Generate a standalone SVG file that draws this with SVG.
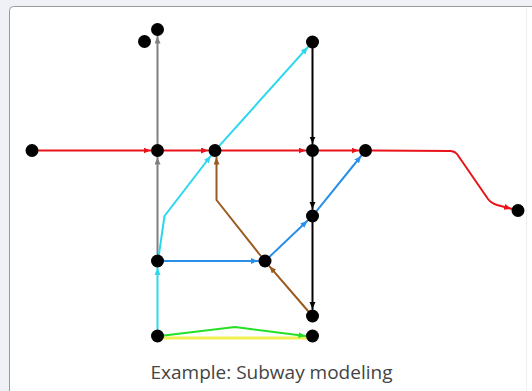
<svg xmlns="http://www.w3.org/2000/svg" width="532" height="391" viewBox="0 0 532 391">
<defs>
<style>
.e{fill:none;stroke-width:2;stroke-linejoin:round;stroke-linecap:round}
.n{fill:#000}
.red{stroke:#e8141a}.gray{stroke:#808080}.cyan{stroke:#2ad8ee}.brown{stroke:#9a5b1e}.blue{stroke:#2a8fea}.black{stroke:#000}.green{stroke:#26e026}.yellow{stroke:#f0f050;stroke-width:3}
</style>
<marker id="mr" markerUnits="userSpaceOnUse" markerWidth="8" markerHeight="8" refX="7" refY="3" orient="auto"><path d="M0,0 L7,3 L0,6 z" fill="#e8141a"/></marker>
<marker id="mg" markerUnits="userSpaceOnUse" markerWidth="8" markerHeight="8" refX="7" refY="3" orient="auto"><path d="M0,0 L7,3 L0,6 z" fill="#808080"/></marker>
<marker id="mc" markerUnits="userSpaceOnUse" markerWidth="8" markerHeight="8" refX="7" refY="3" orient="auto"><path d="M0,0 L7,3 L0,6 z" fill="#2ad8ee"/></marker>
<marker id="mb" markerUnits="userSpaceOnUse" markerWidth="8" markerHeight="8" refX="7" refY="3" orient="auto"><path d="M0,0 L7,3 L0,6 z" fill="#9a5b1e"/></marker>
<marker id="mu" markerUnits="userSpaceOnUse" markerWidth="8" markerHeight="8" refX="7" refY="3" orient="auto"><path d="M0,0 L7,3 L0,6 z" fill="#2a8fea"/></marker>
<marker id="mk" markerUnits="userSpaceOnUse" markerWidth="8" markerHeight="8" refX="7" refY="3" orient="auto"><path d="M0,0 L7,3 L0,6 z" fill="#000"/></marker>
<marker id="mn" markerUnits="userSpaceOnUse" markerWidth="8" markerHeight="8" refX="7" refY="3" orient="auto"><path d="M0,0 L7,3 L0,6 z" fill="#26e026"/></marker>
</defs>
<rect x="0" y="0" width="532" height="391" fill="#eff1f6"/>
<rect x="9.5" y="6.5" width="540" height="400" rx="4" fill="#fff" stroke="#9a9a9a"/>
<line x1="526.5" y1="8" x2="526.5" y2="391" stroke="#f0f0f0"/>
<g id="connectors">
<path class="e red" d="M38.5,150.5 H150.5" marker-end="url(#mr)"/>
<path class="e red" d="M164,150.5 H208" marker-end="url(#mr)"/>
<path class="e red" d="M221.5,150.5 H305.5" marker-end="url(#mr)"/>
<path class="e red" d="M319,150.5 H358.5" marker-end="url(#mr)"/>
<path class="e red" d="M372,150.5 L451,151 Q455,151.5 457,154 L488,199 Q491,203 497,205 L511.2,208.7" marker-end="url(#mr)"/>
<path class="e gray" d="M157.5,254 V157.5" marker-end="url(#mg)"/>
<path class="e gray" d="M157.5,143.5 V36.5" marker-end="url(#mg)"/>
<path class="e cyan" d="M157.5,329 V268" marker-end="url(#mc)"/>
<path class="e cyan" d="M158,261 L164.5,216 L210.7,156" marker-end="url(#mc)"/>
<path class="e cyan" d="M219.7,145.3 L307.8,47.2" marker-end="url(#mc)"/>
<path class="e brown" d="M308,311 L269.5,266.3" marker-end="url(#mb)"/>
<path class="e brown" d="M260.5,255.5 L216.5,200 V157.5" marker-end="url(#mb)"/>
<path class="e blue" d="M164,261 H258" marker-end="url(#mu)"/>
<path class="e blue" d="M270.1,256.2 L307.4,220.8" marker-end="url(#mu)"/>
<path class="e blue" d="M316.9,210.6 L361.1,156" marker-end="url(#mu)"/>
<path class="e black" d="M312.5,48.5 V143.5" marker-end="url(#mk)"/>
<path class="e black" d="M312.5,157 V209" marker-end="url(#mk)"/>
<path class="e black" d="M312.5,222.5 V309" marker-end="url(#mk)"/>
<path class="e yellow" d="M160,338 H309"/>
<path class="e green" d="M164,335.5 L235,327 L305.5,336" marker-end="url(#mn)"/>
</g>
<g id="nA"><circle class="n" cx="32" cy="150.5" r="6.5"/></g>
<g id="nB"><circle class="n" cx="157.5" cy="150.5" r="6.5"/></g>
<g id="nC"><circle class="n" cx="215" cy="150.5" r="6.5"/></g>
<g id="nD"><circle class="n" cx="312.5" cy="150.5" r="6.5"/></g>
<g id="nE"><circle class="n" cx="365.5" cy="150.5" r="6.5"/></g>
<g id="nF"><circle class="n" cx="518" cy="210.5" r="6.5"/></g>
<g id="nG"><circle class="n" cx="157.5" cy="29.5" r="6.5"/></g>
<g id="nH"><circle class="n" cx="144.5" cy="41.5" r="6.5"/></g>
<g id="nI"><circle class="n" cx="312.5" cy="42" r="6.5"/></g>
<g id="nJ"><circle class="n" cx="312.5" cy="216" r="6.5"/></g>
<g id="nK"><circle class="n" cx="157.5" cy="261" r="6.5"/></g>
<g id="nL"><circle class="n" cx="265" cy="261" r="6.5"/></g>
<g id="nM"><circle class="n" cx="312.5" cy="316" r="6.5"/></g>
<g id="nN"><circle class="n" cx="157.5" cy="336" r="6.5"/></g>
<g id="nO"><circle class="n" cx="312.5" cy="336" r="6.5"/></g>
<text x="271.5" y="378.5" text-anchor="middle" font-family="'Open Sans', 'Noto Sans', sans-serif" font-size="19" fill="#444">Example: Subway modeling</text>
</svg>
